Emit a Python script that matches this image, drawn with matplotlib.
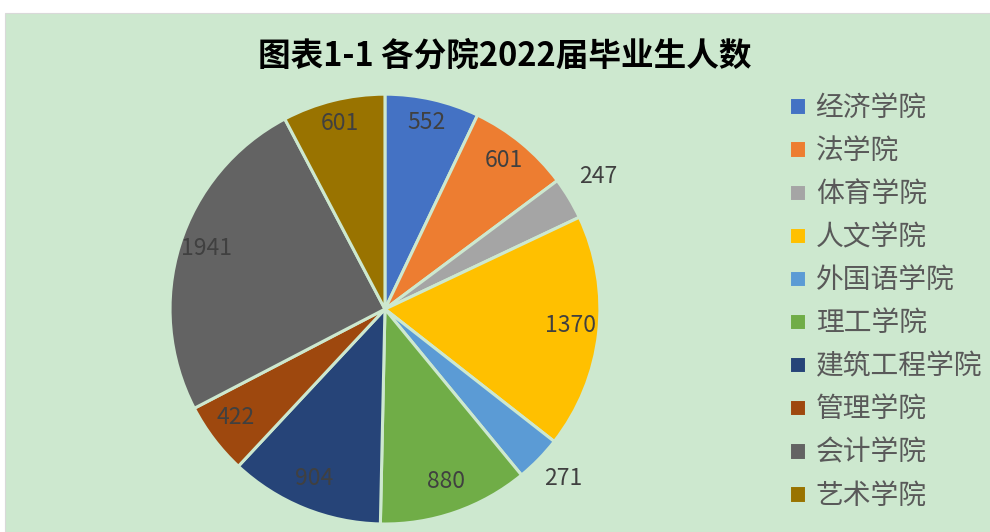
import numpy as np
import matplotlib
matplotlib.use('Agg')
import matplotlib.pyplot as plt
from matplotlib.patches import Rectangle

plt.rcParams['font.family'] = ['Noto Sans CJK SC', 'DejaVu Sans']

colleges = ['经济学院', '法学院', '体育学院', '人文学院', '外国语学院',
            '理工学院', '建筑工程学院', '管理学院', '会计学院', '艺术学院']
counts = [552, 601, 247, 1370, 271, 880, 904, 422, 1941, 601]
colors = ['#4472C4', '#ED7D31', '#A5A5A5', '#FFC000', '#5B9BD5',
          '#70AD47', '#264478', '#9E480E', '#636363', '#997300']
outside = [False, False, True, False, True, False, False, False, False, False]

bg = '#CDE8CF'

def main():
    fig = plt.figure(figsize=(9.9, 5.32), dpi=100)
    fig.patch.set_facecolor('white')
    # green chart area, small white margin at top/left
    fig.patches.append(Rectangle((5 / 990, 0), 1, 1 - 13 / 532,
                                 transform=fig.transFigure, facecolor=bg,
                                 edgecolor='#D9D9D9', linewidth=0.8, zorder=-10))

    ax = fig.add_axes([0.1717, 0.015, 0.4343, 0.808])
    ax.set_zorder(1)
    wedges, _ = ax.pie(counts, colors=colors, startangle=90, counterclock=False,
                       wedgeprops=dict(edgecolor=bg, linewidth=2.2))
    ax.set_xlim(-1, 1)
    ax.set_ylim(-1, 1)
    ax.set_aspect('equal')
    ax.axis('off')

    for w, v, out in zip(wedges, counts, outside):
        ang = np.deg2rad((w.theta1 + w.theta2) / 2)
        d = 1.16 if out else 0.87
        ax.text(d * np.cos(ang), d * np.sin(ang) + 0.02, str(v), ha='center', va='center',
                fontsize=16.5, color='#404040', clip_on=False)

    fig.text(0.51, 0.895, '图表1-1 各分院2022届毕业生人数', ha='center', va='center',
             fontsize=23.5, fontweight='bold', color='black')

    fig.legend(wedges, colleges, loc='upper left', bbox_to_anchor=(0.786, 0.846),
               frameon=False, fontsize=20, labelcolor='#595959',
               handlelength=0.6, handleheight=0.6, handletextpad=0.35,
               labelspacing=0.47, borderaxespad=0)

    plt.savefig('out.png', dpi=100, facecolor=fig.get_facecolor())

if __name__ == "__main__":
    main()
